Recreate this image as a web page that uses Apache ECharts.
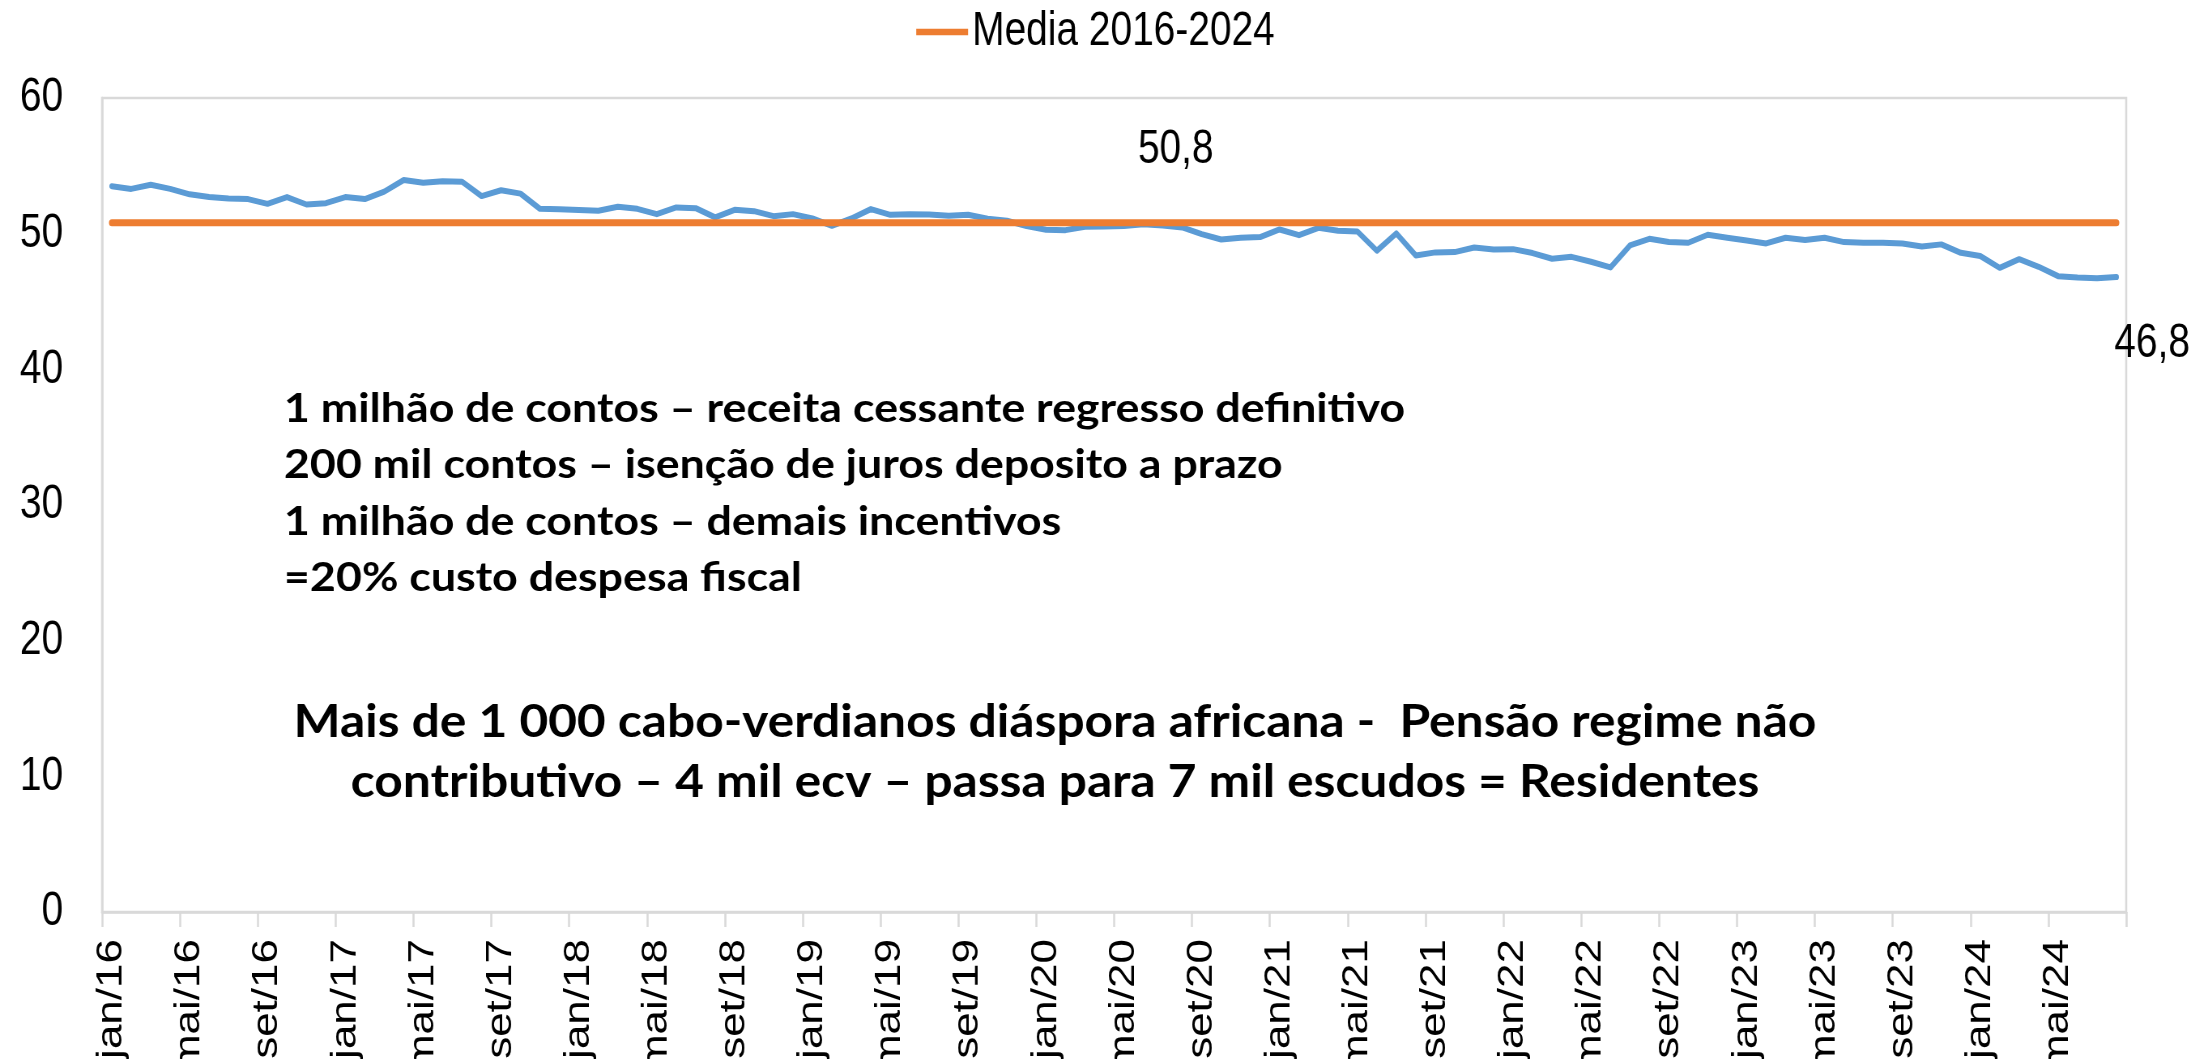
<!DOCTYPE html>
<html>
<head>
<meta charset="utf-8">
<title>Media 2016-2024</title>
<script src="https://cdn.jsdelivr.net/npm/echarts@6/dist/echarts.min.js"></script>
<style>
html, body { margin: 0; padding: 0; background: #fff; overflow: hidden; }
/* o original esta comprimido na horizontal: desenhamos mais largo e comprimimos */
#chart { width: 2705px; height: 1059px; transform: scaleX(0.80998); transform-origin: 0 0; }
</style>
</head>
<body>
<div id="chart"></div>
<script>
// meses / anos do eixo
const monthNames = ['jan', 'fev', 'mar', 'abr', 'mai', 'jun', 'jul', 'ago', 'set', 'out', 'nov', 'dez'];
const years = ['16', '17', '18', '19', '20', '21', '22', '23', '24'];
const lastMonthIndex = 7; // ago/24

// serie mensal (jan/16 - ago/24)
const values = [
  53.5, 53.3, 53.6, 53.3, 52.9, 52.7, 52.6, 52.55, 52.2, 52.7, 52.15, 52.25,
  52.7, 52.55, 53.1, 53.95, 53.75, 53.87, 53.83, 52.77, 53.2, 52.95, 51.83, 51.8,
  51.74, 51.69, 51.98, 51.83, 51.44, 51.93, 51.88, 51.2, 51.76, 51.66, 51.29, 51.44,
  51.12, 50.58, 51.12, 51.81, 51.39, 51.44, 51.42, 51.32, 51.39, 51.1, 50.95, 50.56,
  50.29, 50.26, 50.51, 50.53, 50.56, 50.7, 50.61, 50.46, 49.97, 49.57, 49.7, 49.75,
  50.31, 49.89, 50.43, 50.21, 50.16, 48.74, 50.02, 48.39, 48.62, 48.64, 48.98, 48.84,
  48.86, 48.57, 48.15, 48.29, 47.93, 47.51, 49.13, 49.62, 49.39, 49.33, 49.92, 49.7,
  49.5, 49.28, 49.7, 49.53, 49.7, 49.38, 49.33, 49.33, 49.28, 49.06, 49.21, 48.59,
  48.35, 47.48, 48.12, 47.56, 46.87, 46.77, 46.72, 46.8
];
const mediaName = 'Media 2016-2024';
const mediaValue = 50.8;
const mediaLabelIndex = 55;

const yTicks = [0, 10, 20, 30, 40, 50, 60];

const notesLeft = [
  '1 milhão de contos – receita cessante regresso definitivo',
  '200 mil contos – isenção de juros deposito a prazo',
  '1 milhão de contos – demais incentivos',
  '=20% custo despesa fiscal'
];
const notesCenter = [
  'Mais de 1 000 cabo-verdianos diáspora africana -  Pensão regime não',
  'contributivo – 4 mil ecv – passa para 7 mil escudos = Residentes'
];

const plain = "'Liberation Sans', Arial, sans-serif";
const noteFont = "Lato, 'Open Sans', sans-serif";

let categories = [];
years.forEach((y, yi) => {
  monthNames.forEach((m, mi) => {
    if (yi === years.length - 1 && mi > lastMonthIndex) return;
    categories.push(m + '/' + y);
  });
});

const commaFmt = p => String(p.value).replace('.', ',');

// largura do texto para ajustar as caixas de texto ao original
let measureCtx = document.createElement('canvas').getContext('2d');
function fitScale(text, size, target) {
  measureCtx.font = 'bold ' + size + 'px ' + noteFont;
  return target / measureCtx.measureText(text).width;
}

let graphics = [];
const leftSize = 40;
const leftScale = fitScale(notesLeft[0], leftSize, 1384);
notesLeft.forEach((t, i) => {
  graphics.push({
    type: 'text', x: 350.6, y: 409 + i * 56.5, scaleX: leftScale,
    style: { text: t, fontFamily: noteFont, fontWeight: 'bold', fontSize: leftSize, fill: '#000',
      textAlign: 'left', textVerticalAlign: 'middle' }
  });
});
const centerSize = 45;
const centerScale = fitScale(notesCenter[0], centerSize, 1880);
notesCenter.forEach((t, i) => {
  graphics.push({
    type: 'text', x: 1302.5, y: 722 + i * 60.5, scaleX: centerScale,
    style: { text: t, fontFamily: noteFont, fontWeight: 'bold', fontSize: centerSize, fill: '#000',
      textAlign: 'center', textVerticalAlign: 'middle' }
  });
});

const labelStyle = { show: true, formatter: commaFmt, fontFamily: plain, fontSize: 48, color: '#000' };

let myChart = echarts.init(document.getElementById('chart'));
let option = {
  animation: false,
  legend: {
    data: [mediaName],
    top: 8,
    left: 'center',
    padding: 0,
    icon: 'rect',
    itemWidth: 64,
    itemHeight: 6.5,
    textStyle: { fontFamily: plain, fontSize: 48, color: '#000' }
  },
  grid: {
    left: 126, right: 80, top: 98, bottom: 147,
    outerBoundsMode: 'none',
    show: true, borderColor: '#d9d9d9', borderWidth: 2.5
  },
  xAxis: {
    type: 'category',
    data: categories,
    boundaryGap: true,
    axisLine: { show: true, lineStyle: { color: '#d9d9d9', width: 2.5 } },
    axisTick: { show: true, interval: 3, length: 15, lineStyle: { color: '#d9d9d9', width: 2.5 } },
    axisLabel: { interval: 3, rotate: 90, margin: 27, fontFamily: plain, fontSize: 44, color: '#000' },
    splitLine: { show: false }
  },
  yAxis: {
    type: 'value',
    min: yTicks[0],
    max: yTicks[yTicks.length - 1],
    interval: 10,
    axisLine: { show: true, lineStyle: { color: '#d9d9d9', width: 2.5 } },
    axisTick: { show: false },
    axisLabel: { margin: 48, fontFamily: plain, fontSize: 48, color: '#000' },
    splitLine: { show: false }
  },
  series: [
    {
      name: 'Serie',
      type: 'line',
      data: values,
      showSymbol: false,
      symbol: 'none',
      lineStyle: { color: '#5b9bd5', width: 6, cap: 'round', join: 'round' },
      itemStyle: { color: '#5b9bd5' },
      markPoint: {
        symbol: 'circle', symbolSize: 0, silent: true,
        data: [{
          coord: [categories[values.length - 1], values[values.length - 1]],
          value: values[values.length - 1],
          label: Object.assign({ position: 'bottom', offset: [44, 38] }, labelStyle)
        }]
      },
      z: 2
    },
    {
      name: mediaName,
      type: 'line',
      data: categories.map(() => mediaValue),
      showSymbol: false,
      symbol: 'none',
      lineStyle: { color: '#ed7d31', width: 7, cap: 'round' },
      itemStyle: { color: '#ed7d31' },
      markPoint: {
        symbol: 'circle', symbolSize: 0, silent: true,
        data: [{
          coord: [categories[mediaLabelIndex], mediaValue],
          value: mediaValue,
          label: Object.assign({ position: 'top', offset: [-8, -44] }, labelStyle)
        }]
      },
      z: 3
    }
  ],
  graphic: graphics
};
myChart.setOption(option);
</script>
</body>
</html>
